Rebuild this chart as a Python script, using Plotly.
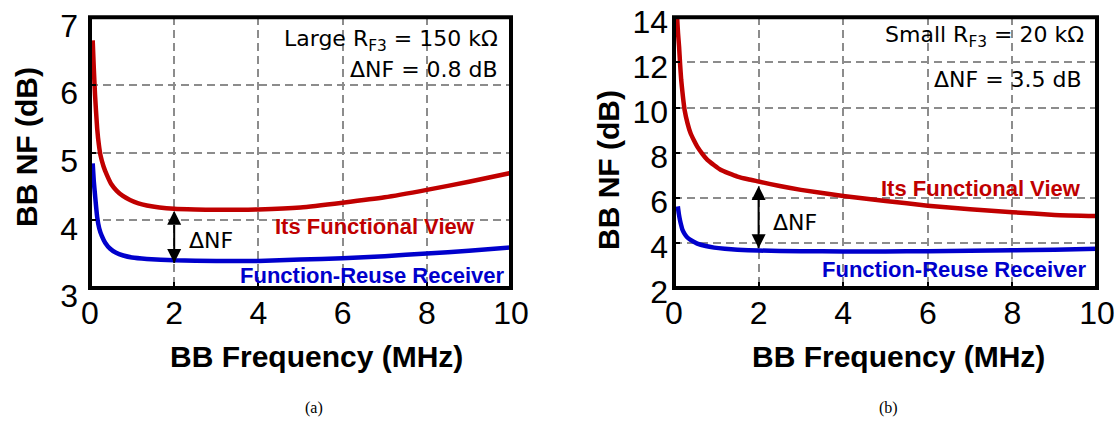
import plotly.graph_objects as go

W, H = 1114, 425

# ---------------- data ----------------
freq_a_fv = [0.064, 0.09, 0.12, 0.17, 0.21, 0.25, 0.32, 0.40, 0.50, 0.63, 0.78, 0.95, 1.15, 1.35, 1.65,
             2.0, 2.5, 3.0, 3.5, 4.0, 5.0, 6.0, 7.0, 8.0, 9.0, 10.0]
nf_a_fv = [6.66, 6.25, 5.85, 5.36, 5.12, 4.96, 4.80, 4.67, 4.54, 4.44, 4.36, 4.30, 4.25, 4.22, 4.19,
           4.17, 4.16, 4.155, 4.155, 4.16, 4.19, 4.26, 4.34, 4.45, 4.57, 4.70]

freq_a_fr = [0.064, 0.09, 0.12, 0.17, 0.22, 0.28, 0.36, 0.48, 0.62, 0.79, 1.0, 1.35,
             2.0, 3.0, 4.0, 5.0, 6.0, 7.0, 8.0, 9.0, 10.0]
nf_a_fr = [4.84, 4.58, 4.37, 4.05, 3.88, 3.77, 3.67, 3.58, 3.52, 3.48, 3.45, 3.43,
           3.41, 3.40, 3.40, 3.42, 3.44, 3.47, 3.51, 3.55, 3.60]

freq_b_fv = [0.07, 0.095, 0.12, 0.145, 0.17, 0.21, 0.25, 0.32, 0.39, 0.47, 0.55, 0.67, 0.79, 0.95,
             1.10, 1.3, 1.5, 1.75, 2.0, 2.5, 3.0, 4.0, 5.0, 6.0, 7.0, 8.0, 9.0, 10.0]
nf_b_fv = [14.1, 13.3, 12.7, 11.9, 11.23, 10.5, 9.9, 9.3, 8.87, 8.55, 8.27, 7.95, 7.68, 7.44,
           7.24, 7.08, 6.94, 6.82, 6.72, 6.52, 6.35, 6.08, 5.86, 5.65, 5.49, 5.36, 5.24, 5.19]

freq_b_fr = [0.09, 0.115, 0.14, 0.17, 0.20, 0.25, 0.31, 0.40, 0.55, 0.75, 0.95, 1.2, 1.5,
             2.0, 3.0, 4.0, 5.0, 6.0, 7.0, 8.0, 9.0, 10.0]
nf_b_fr = [5.62, 5.28, 5.02, 4.78, 4.58, 4.40, 4.25, 4.12, 3.97, 3.86, 3.79, 3.74, 3.70,
           3.66, 3.63, 3.62, 3.62, 3.63, 3.65, 3.67, 3.70, 3.74]

x_ticks = [0, 2, 4, 6, 8, 10]
y_ticks_a = [3, 4, 5, 6, 7]
y_ticks_b = [2, 4, 6, 8, 10, 12, 14]

# ΔNF arrows: frequency, bottom tip, top tip
arrow_a_x = [2, 2]
arrow_a_y = [3.37, 4.14]
arrow_b_x = [2, 2]
arrow_b_y = [3.76, 6.52]

RED = "#C00000"
BLUE = "#0000CC"


def X(px):
    return px / W


def Y(py):
    return 1 - py / H


fig = go.Figure()

line_kw = dict(width=4.5, shape="spline", smoothing=0.5)
fig.add_trace(go.Scatter(x=freq_a_fv, y=nf_a_fv, mode="lines", xaxis="x", yaxis="y",
                         line=dict(color=RED, **line_kw)))
fig.add_trace(go.Scatter(x=freq_a_fr, y=nf_a_fr, mode="lines", xaxis="x", yaxis="y",
                         line=dict(color=BLUE, **line_kw)))
fig.add_trace(go.Scatter(x=freq_b_fv, y=nf_b_fv, mode="lines", xaxis="x2", yaxis="y2",
                         line=dict(color=RED, **line_kw)))
fig.add_trace(go.Scatter(x=freq_b_fr, y=nf_b_fr, mode="lines", xaxis="x2", yaxis="y2",
                         line=dict(color=BLUE, **line_kw)))

# double-headed arrows
for ax_x, ax_y, xa, ya in [(arrow_a_x, arrow_a_y, "x", "y"), (arrow_b_x, arrow_b_y, "x2", "y2")]:
    fig.add_trace(go.Scatter(x=ax_x, y=ax_y, mode="lines+markers", xaxis=xa, yaxis=ya,
                             line=dict(color="black", width=2),
                             marker=dict(symbol=["arrow-down", "arrow-up"], size=14,
                                         color="black", line=dict(width=0)),
                             cliponaxis=False))

tickfont = dict(family="Liberation Sans, Arial, sans-serif", size=32, color="black")
grid = dict(showgrid=True, gridcolor="#8c8c8c", gridwidth=1.5, griddash="8px,5px",
            zeroline=False, showline=False, ticks="inside", ticklen=6, tickwidth=2,
            tickcolor="black", tickfont=tickfont, ticklabeloverflow="allow", automargin=False)

ydom = [Y(288), Y(17.3)]
fig.update_layout(
    width=W, height=H,
    margin=dict(l=0, r=0, t=0, b=0),
    paper_bgcolor="white", plot_bgcolor="white",
    showlegend=False,
    xaxis=dict(domain=[X(90), X(511)], range=[0, 10], tickvals=x_ticks, anchor="y",
               ticklabelstandoff=3, **grid),
    yaxis=dict(domain=ydom, range=[3, 7], tickvals=y_ticks_a, anchor="x",
               ticklabelstandoff=11, ticklabelshift=8, **grid),
    xaxis2=dict(domain=[X(674), X(1097)], range=[0, 10], tickvals=x_ticks, anchor="y2",
                ticklabelstandoff=3, **grid),
    yaxis2=dict(domain=ydom, range=[2, 14], tickvals=y_ticks_b, anchor="x2",
                ticklabelstandoff=5, ticklabelshift=4, **grid),
)

# frames
for xr, yr in [("x domain", "y domain"), ("x2 domain", "y2 domain")]:
    fig.add_shape(type="rect", xref=xr, yref=yr, x0=0, x1=1, y0=0, y1=1,
                  line=dict(color="black", width=4), layer="above")


def add_text(text, px, py, size, color="black", xanchor="center", bold=False, family=None, angle=0):
    f = dict(family=family or "Liberation Sans, Arial, sans-serif", size=size, color=color)
    fig.add_annotation(text=f"<b>{text}</b>" if bold else text, x=X(px), y=Y(py),
                       xref="paper", yref="paper", xanchor=xanchor, yanchor="middle",
                       showarrow=False, font=f, textangle=angle)


DV = "DejaVu Sans, sans-serif"

# axis titles
add_text("BB NF (dB)", 26, 147, 30, bold=True, angle=-90)
add_text("BB NF (dB)", 608, 170, 30, bold=True, angle=-90)
add_text("BB Frequency (MHz)", 316, 356, 30, bold=True)
add_text("BB Frequency (MHz)", 898, 356, 30, bold=True)

# in-plot labels
add_text("Large R<sub>F3</sub> = 150 kΩ", 500, 40, 22, xanchor="right", family=DV)
add_text("ΔNF = 0.8 dB", 500, 70, 22, xanchor="right", family=DV)
add_text("Small R<sub>F3</sub> = 20 kΩ", 1086, 37, 22, xanchor="right", family=DV)
add_text("ΔNF = 3.5 dB", 1084, 79, 22, xanchor="right", family=DV)

add_text("Its Functional View", 477, 226, 22, color=RED, xanchor="right", bold=True)
add_text("Function-Reuse Receiver", 507, 275, 22, color=BLUE, xanchor="right", bold=True)
add_text("Its Functional View", 1083, 188, 22, color=RED, xanchor="right", bold=True)
add_text("Function-Reuse Receiver", 1089, 269, 22, color=BLUE, xanchor="right", bold=True)

add_text("ΔNF", 187, 240, 22, xanchor="left", family=DV)
add_text("ΔNF", 771, 223, 22, xanchor="left", family=DV)

# captions
add_text("(a)", 314, 408, 16, family="Liberation Serif, Times New Roman, serif")
add_text("(b)", 888, 408, 16, family="Liberation Serif, Times New Roman, serif")

fig.write_html("out.html")
